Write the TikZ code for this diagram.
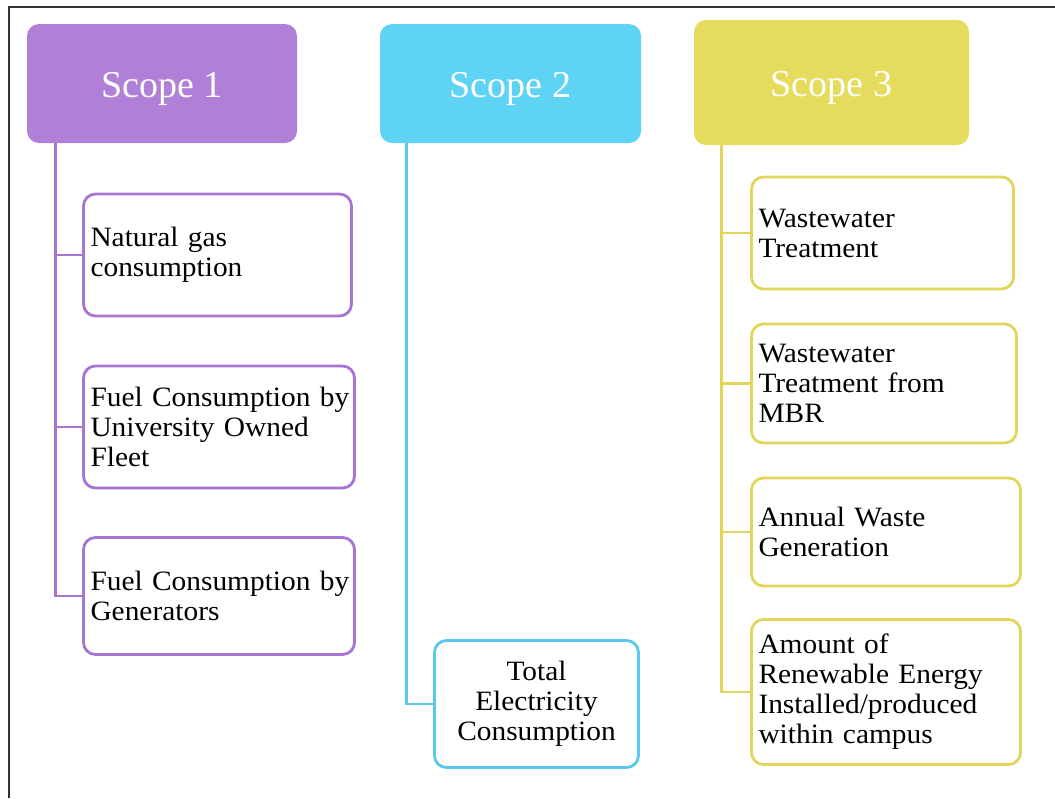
\documentclass[tikz,border=0pt]{standalone}
\usepackage{fontspec}
\setmainfont{Liberation Serif}
\newfontfamily\itemfont{Liberation Serif}[FakeStretch=1.05]
\usetikzlibrary{calc}

\definecolor{purpleA}{HTML}{B07FD8}
\definecolor{purpleB}{HTML}{A874D2}
\definecolor{cyanA}{HTML}{5FD3F4}
\definecolor{cyanB}{HTML}{58C8EC}
\definecolor{yellowA}{HTML}{E5DB5C}
\definecolor{yellowB}{HTML}{E2D65A}

% one unbreakable text line
\newcommand{\oneline}[1]{\mbox{#1}}
% heading text, set a little below the box centre
\newcommand{\headtext}[1]{\raisebox{-5pt}[\height][\depth]{#1}}

\tikzset{
  header/.style={rounded corners=12pt, inner sep=0pt, text=white,
    font=\fontsize{38}{40}\selectfont, anchor=center},
  item/.style={draw=#1, line width=2.8pt, rounded corners=12pt, fill=white,
    inner xsep=7pt, inner ysep=0pt, anchor=center,
    font=\itemfont\fontsize{28}{30}\selectfont},
  tie/.style={draw=#1, line width=2.8pt},
}

\begin{document}
\begin{tikzpicture}[x=1pt, y=-1pt]
  \useasboundingbox (0,0) rectangle (1055,798);
  % frame edges (top and left)
  \draw[line width=2pt, black!80] (9,798) -- (9,7) -- (1055,7);

  % column headers
  \node[header, fill=purpleA, minimum width=270pt, minimum height=119pt] (H1) at (162,83.5) {\headtext{Scope 1}};
  \node[header, fill=cyanA, minimum width=261pt, minimum height=119pt] (H2) at (510.5,83.5) {\headtext{Scope 2}};
  \node[header, fill=yellowA, minimum width=275pt, minimum height=125pt] (H3) at (831.5,82.5) {\headtext{Scope 3}};

  % Scope 1 items
  \node[item=purpleB, minimum width=268pt, minimum height=122pt, text width=254pt, align=left] (N1) at (217.5,255)
    {\oneline{Natural gas}\\\oneline{consumption}};
  \node[item=purpleB, minimum width=271pt, minimum height=122pt, text width=257pt, align=left] (N2) at (219,427)
    {\oneline{Fuel Consumption by}\\\oneline{University Owned}\\\oneline{Fleet}};
  \node[item=purpleB, minimum width=271pt, minimum height=117pt, text width=257pt, align=left] (N3) at (219,596)
    {\oneline{Fuel Consumption by}\\\oneline{Generators}};

  % Scope 2 item
  \node[item=cyanB, minimum width=204pt, minimum height=127pt, text width=190pt, align=center] (E1) at (536.5,704)
    {\oneline{Total}\\\oneline{Electricity}\\\oneline{Consumption}};

  % Scope 3 items
  \node[item=yellowB, minimum width=262pt, minimum height=112pt, text width=248pt, align=left] (W1) at (882.5,233)
    {\oneline{Wastewater}\\\oneline{Treatment}};
  \node[item=yellowB, minimum width=265pt, minimum height=119pt, text width=251pt, align=left] (W2) at (884,383.5)
    {\oneline{Wastewater}\\\oneline{Treatment from}\\\oneline{MBR}};
  \node[item=yellowB, minimum width=269pt, minimum height=108pt, text width=255pt, align=left] (W3) at (886,532)
    {\oneline{Annual Waste}\\\oneline{Generation}};
  \node[item=yellowB, minimum width=269pt, minimum height=145pt, text width=255pt, align=left] (W4) at (886,692)
    {\oneline{Amount of}\\\oneline{Renewable Energy}\\\oneline{Installed/produced}\\\oneline{within campus}};

  % trunk start points under each header
  \coordinate (t1) at ($(H1.south west)+(29,0)$);
  \coordinate (t2) at ($(H2.south west)+(27,0)$);
  \coordinate (t3) at ($(H3.south west)+(28,0)$);

  % connectors
  \draw[tie=purpleB] (t1) |- (N3.west);
  \draw[tie=purpleB] (t1|-N1.west) -- (N1.west);
  \draw[tie=purpleB] (t1|-N2.west) -- (N2.west);

  \draw[tie=cyanB] (t2) |- (E1.west);

  \draw[tie=yellowB] (t3) |- (W4.west);
  \draw[tie=yellowB] (t3|-W1.west) -- (W1.west);
  \draw[tie=yellowB] (t3|-W2.west) -- (W2.west);
  \draw[tie=yellowB] (t3|-W3.west) -- (W3.west);
\end{tikzpicture}
\end{document}
